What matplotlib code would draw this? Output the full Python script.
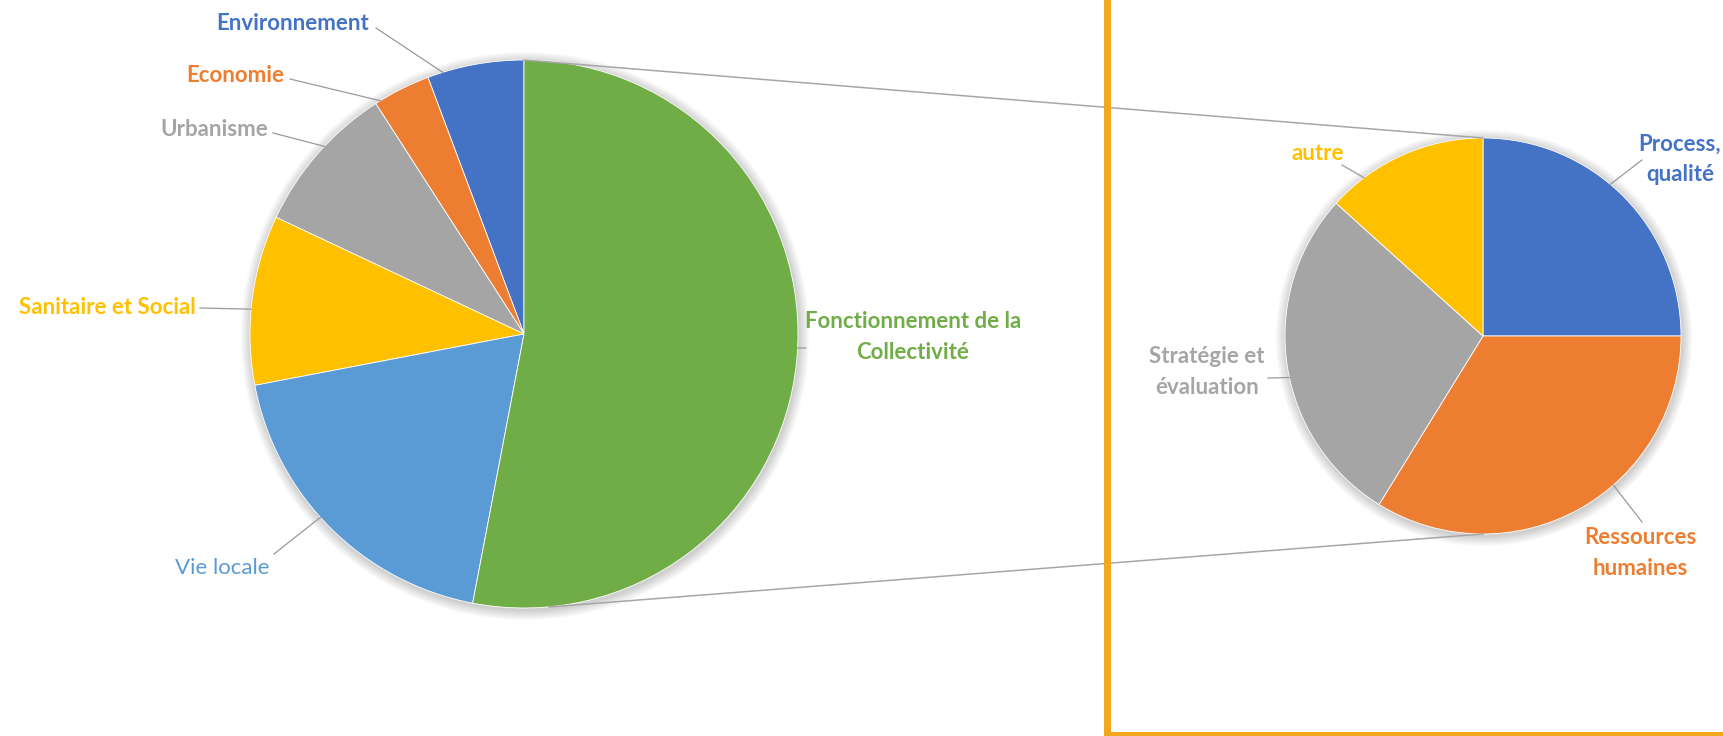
import matplotlib
matplotlib.use('Agg')
import matplotlib.pyplot as plt
import numpy as np
from matplotlib.patches import Circle, Rectangle

plt.rcParams['font.family'] = ['Lato', 'DejaVu Sans']

# --- données ---
left_labels = ['Environnement', 'Economie', 'Urbanisme', 'Sanitaire et Social',
               'Vie locale', 'Fonctionnement de la\nCollectivité']
left_values = [5.7, 3.4, 8.9, 10.0, 19.0, 53.0]
left_colors = ['#4472C4', '#ED7D31', '#A5A5A5', '#FFC000', '#5B9BD5', '#70AD47']

right_labels = ['Process,\nqualité', 'Ressources\nhumaines', 'Stratégie et\névaluation', 'autre']
right_values = [25.0, 33.8, 27.9, 13.3]
right_colors = ['#4472C4', '#ED7D31', '#A5A5A5', '#FFC000']

W, H = 1723, 736

# placement des étiquettes (pixels, y vers le bas) :
# texte x, y, ha, départ du trait, décalage angulaire du point d'attache (degrés)
left_layout = [
    (369, 23, 'right', (376, 28), 7),
    (284, 75, 'right', (290, 79), 5),
    (268, 130, 'right', (273, 133), -2),
    (196, 308, 'right', (200, 308), 2),
    (222, 568, 'center', (274, 554), -3),
    (913, 337, 'center', (806, 348), 2.5),
]
left_weights = ['bold', 'bold', 'bold', 'bold', 'normal', 'bold']
right_layout = [
    (1680, 159, 'center', (1642, 160), -5),
    (1640, 553, 'center', (1642, 522), -12),
    (1207, 372, 'center', (1268, 378), -4),
    (1318, 153, 'center', (1342, 165), -13),
]

LC, LR = (524, 334), 274
RC, RR = (1483, 336), 198


def fy(y):
    return H - y


def shadow(ax, c, r):
    for k in range(8):
        ax.add_patch(Circle((c[0] + 1, fy(c[1]) - 2), r + 1 + k * 1.3,
                            color='#000000', alpha=0.025, lw=0, zorder=0))


def draw_pie(ax, values, colors, labels, layout, c, r, counterclock, weights=None):
    shadow(ax, c, r)
    ax.pie(values, colors=colors, startangle=90, counterclock=counterclock,
           center=(c[0], fy(c[1])), radius=r,
           wedgeprops=dict(linewidth=0.6, edgecolor='white'))
    total = float(sum(values))
    cum = 0.0
    for i, v in enumerate(values):
        tx, ty, ha, (sx, sy), off = layout[i]
        frac = (cum + v / 2) / total * 360 + off
        ang = np.deg2rad(90 + frac if counterclock else 90 - frac)
        ex = c[0] + r * np.cos(ang)
        ey = fy(c[1]) + r * np.sin(ang)
        cum += v
        ax.plot([sx, ex], [fy(sy), ey], color='#9A9A9A', lw=0.9, zorder=3)
        ax.text(tx, fy(ty), labels[i], color=colors[i], ha=ha, va='center',
                fontsize=16, fontweight=weights[i] if weights else 'bold',
                linespacing=1.55, zorder=4)


fig = plt.figure(figsize=(W / 100, H / 100), dpi=100)
ax = fig.add_axes([0, 0, 1, 1])

draw_pie(ax, left_values, left_colors, left_labels, left_layout, LC, LR, True, left_weights)
draw_pie(ax, right_values, right_colors, right_labels, right_layout, RC, RR, False)

# lignes de liaison entre les deux camemberts
ax.plot([LC[0], RC[0]], [fy(LC[1] - LR), fy(RC[1] - RR)], color='#A6A6A6', lw=1.1, zorder=2)
ax.plot([LC[0] + 25, RC[0]], [fy(LC[1] + LR - 1), fy(RC[1] + RR)], color='#A6A6A6', lw=1.1, zorder=2)

# cadre orange
ax.add_patch(Rectangle((1104, fy(736)), 7, 736, color='#F2A81D', lw=0, zorder=5))
ax.add_patch(Rectangle((1104, 0), W - 1104, 4, color='#F2A81D', lw=0, zorder=5))

ax.set_xlim(0, W)
ax.set_ylim(0, H)
ax.set_aspect('equal')
ax.axis('off')

fig.savefig('out.png', dpi=100)
